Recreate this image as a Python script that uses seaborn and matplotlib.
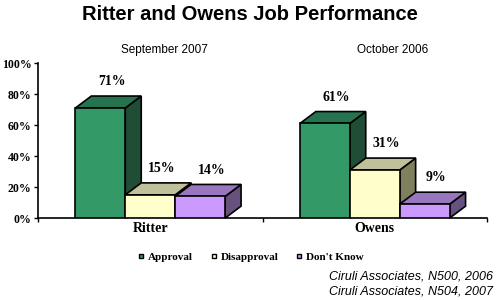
import matplotlib
matplotlib.use('Agg')
import matplotlib.pyplot as plt
from matplotlib.patches import Polygon
from matplotlib.lines import Line2D
import seaborn as sns
import pandas as pd

candidates = ['Ritter', 'Owens']
periods = ['September 2007', 'October 2006']
responses = ['Approval', 'Disapproval', "Don't Know"]
ritter_vals = [71, 15, 14]
owens_vals = [61, 31, 9]
ytick_vals = [0, 20, 40, 60, 80, 100]
ytick_labels = ['0%', '20%', '40%', '60%', '80%', '100%']
sources = ['Ciruli Associates, N500, 2006', 'Ciruli Associates, N504, 2007']

front = {'Approval': '#339966', 'Disapproval': '#ffffcc', "Don't Know": '#cc99ff'}
top_c = {'Approval': '#267350', 'Disapproval': '#c0c09a', "Don't Know": '#9977bf'}
side_c = {'Approval': '#1f4d35', 'Disapproval': '#80805f', "Don't Know": '#66517f'}

rows = []
for r, v in zip(responses, ritter_vals):
    rows.append({'candidate': 'Ritter', 'response': r, 'value': v})
for r, v in zip(responses, owens_vals):
    rows.append({'candidate': 'Owens', 'response': r, 'value': v})
df = pd.DataFrame(rows)

sns.set_style('white')
plt.rcParams['text.color'] = 'black'
plt.rcParams['xtick.color'] = 'black'
plt.rcParams['ytick.color'] = 'black'
fig = plt.figure(figsize=(5, 3), dpi=100)
ax = fig.add_axes([0.076, 0.273, 0.898, 0.517])

sns.barplot(data=df, x='candidate', y='value', hue='response', order=candidates,
            hue_order=responses, palette=front, width=0.667, gap=0, saturation=1,
            edgecolor='black', linewidth=1.2, legend=False, ax=ax, errorbar=None)

# patches come out in hue order, one per candidate
bars = [(p, responses[i // len(candidates)]) for i, p in enumerate(ax.patches)]
bars.sort(key=lambda t: t[0].get_x())

dx, dy = 0.071, 7.7
for i, (p, r) in enumerate(bars):
    x, w, h = p.get_x(), p.get_width(), p.get_height()
    z = 2 + i * 3
    p.set_zorder(z + 2)
    ax.add_patch(Polygon([(x, h), (x + w, h), (x + w + dx, h + dy), (x + dx, h + dy)],
                         closed=True, facecolor=top_c[r], edgecolor='black', lw=1.2,
                         zorder=z + 1, clip_on=False))
    ax.add_patch(Polygon([(x + w, 0), (x + w, h), (x + w + dx, h + dy), (x + w + dx, dy)],
                         closed=True, facecolor=side_c[r], edgecolor='black', lw=1.2,
                         zorder=z, clip_on=False))
    ax.text(x + w / 2 + 0.05, h + dy + 5, f'{int(h)}%', ha='center', va='bottom',
            family='Liberation Serif', fontweight='bold', fontsize=10, zorder=50)

ax.set_xlim(-0.5, 1.5)
ax.set_ylim(0, 100)
ax.set_yticks(ytick_vals)
ax.set_yticklabels(ytick_labels, family='Liberation Serif', fontweight='bold', fontsize=8.5)
ax.set_xticks([0, 1])
ax.set_xticklabels(candidates, family='Liberation Serif', fontweight='bold', fontsize=10)
ax.set_xticks([-0.5, 0.5, 1.5], minor=True)
ax.tick_params(axis='x', which='major', length=0, pad=3)
ax.tick_params(axis='x', which='minor', length=3, width=1, direction='out', bottom=True)
ax.tick_params(axis='y', length=3, width=1, direction='out', left=True, pad=1.5)
ax.set_xlabel('')
ax.set_ylabel('')
for s in ['top', 'right']:
    ax.spines[s].set_visible(False)
for s in ['left', 'bottom']:
    ax.spines[s].set_color('black')
    ax.spines[s].set_linewidth(1.2)

fig.text(0.5, 0.95, 'Ritter and Owens Job Performance', ha='center', va='center',
         family='Liberation Sans', fontweight='bold', fontsize=14.5)
fig.text(0.328, 0.833, periods[0], ha='center', va='center', family='Liberation Sans', fontsize=8.5)
fig.text(0.786, 0.833, periods[1], ha='center', va='center', family='Liberation Sans', fontsize=8.5)

handles = [Line2D([], [], marker='s', linestyle='', markersize=3.5, markerfacecolor=front[r],
                  markeredgecolor='black', markeredgewidth=1) for r in responses]
fig.legend(handles, responses, loc='center', bbox_to_anchor=(0.499, 0.143), ncol=3,
           frameon=False, prop={'family': 'Liberation Serif', 'weight': 'bold', 'size': 8},
           handletextpad=0.1, columnspacing=1.4, handlelength=1)

fig.text(0.986, 0.077, sources[0], ha='right', va='center', family='Liberation Sans',
         style='italic', fontsize=9)
fig.text(0.986, 0.03, sources[1], ha='right', va='center', family='Liberation Sans',
         style='italic', fontsize=9)

fig.savefig('out.png', dpi=100)
